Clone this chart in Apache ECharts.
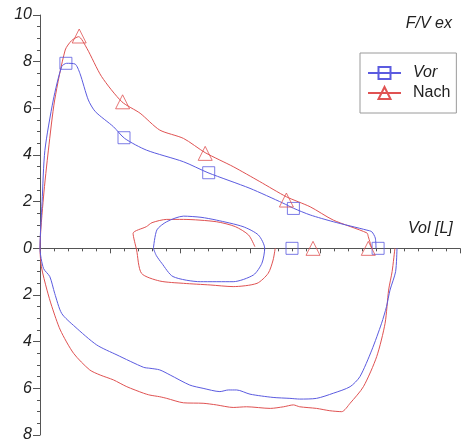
<!DOCTYPE html>
<html>
<head>
<meta charset="utf-8">
<script src="https://cdn.jsdelivr.net/npm/echarts@6/dist/echarts.min.js"></script>
<style>html,body{margin:0;padding:0;background:#fff}#c{width:464px;height:444px}</style>
</head>
<body>
<div id="c"></div>
<script>
// ---- data (volume [L], flow [L/s]) ----
const vorExp = [[0,0],[0.03,2.0],[0.07,4.2],[0.19,6.36],[0.31,7.79],[0.38,7.93],[0.5,7.9],[0.57,7.5],[0.69,6.36],[0.79,5.86],[1.05,5.21],[1.21,4.71],[1.52,4.21],[2.05,3.71],[2.4,3.24],[3.0,2.57],[3.47,1.94],[3.62,1.72],[3.86,1.43],[4.19,1.14],[4.67,0.78],[4.74,0.71],[4.79,0.44],[4.8,0]];
const vorInsp = [[5.1,0],[5.08,-1.0],[5.0,-1.79],[4.95,-2.5],[4.88,-3.21],[4.74,-4.36],[4.57,-5.5],[4.43,-5.93],[4.19,-6.21],[3.95,-6.43],[3.71,-6.46],[3.57,-6.43],[3.33,-6.39],[3.0,-6.25],[2.81,-6.07],[2.69,-6.07],[2.57,-6.14],[2.33,-6.0],[2.14,-5.86],[1.86,-5.43],[1.71,-5.21],[1.57,-5.14],[1.48,-5.1],[1.1,-4.57],[0.81,-4.14],[0.5,-3.36],[0.31,-2.79],[0.21,-1.93],[0.14,-1.21],[0.05,-0.86],[0,0]];
const vorTidal = [[1.62,0],[1.67,0.79],[1.81,1.14],[2.05,1.38],[2.3,1.33],[2.52,1.21],[2.9,0.93],[3.12,0.57],[3.21,0],[3.17,-0.64],[3.05,-1.14],[2.76,-1.43],[2.29,-1.43],[1.9,-1.21],[1.74,-0.64],[1.66,-0.3],[1.62,0]];
const nachExp = [[0,0],[0.05,2.2],[0.12,4.21],[0.21,6.36],[0.36,8.5],[0.45,8.9],[0.55,9.07],[0.67,8.57],[0.88,7.36],[1.17,6.28],[1.43,5.79],[1.71,5.07],[2.05,4.71],[2.36,4.1],[2.76,3.5],[3.14,2.86],[3.52,2.21],[3.86,1.78],[4.19,1.21],[4.67,0.66],[4.69,0.5],[4.74,0]];
const nachInsp = [[5.07,0],[5.03,-1.0],[4.98,-1.79],[4.93,-3.21],[4.81,-4.64],[4.62,-5.93],[4.43,-6.64],[4.31,-7.0],[4.14,-6.96],[3.95,-6.86],[3.71,-6.79],[3.62,-6.71],[3.48,-6.79],[3.29,-6.86],[2.95,-6.79],[2.76,-6.82],[2.52,-6.71],[2.33,-6.64],[2.05,-6.62],[1.81,-6.43],[1.71,-6.36],[1.57,-6.29],[1.48,-6.21],[1.24,-5.93],[1.05,-5.64],[0.86,-5.43],[0.71,-5.21],[0.48,-4.5],[0.29,-3.5],[0.17,-2.5],[0.1,-1.79],[0.02,-0.79],[0,0]];
const nachTidal = [[3.36,0],[3.33,-0.5],[3.26,-1.07],[3.1,-1.5],[2.76,-1.64],[2.43,-1.57],[2.05,-1.5],[1.71,-1.4],[1.45,-1.07],[1.38,-0.07],[1.33,0.64],[1.52,0.93],[1.6,1.1],[1.81,1.24],[2.05,1.24],[2.52,1.14],[2.79,0.93],[2.98,0.57],[3.07,0.07]];
const vorMarks = [[0.37,7.93],[1.2,4.74],[2.41,3.24],[3.62,1.71],[3.6,0],[4.83,0]];
const nachMarks = [[0.56,9.1],[1.18,6.28],[2.36,4.07],[3.52,2.07],[3.9,0],[4.69,0]];
const xTicks = [0,1,2,3,4,5,6];
const yTicks = [-8,-6,-4,-2,0,2,4,6,8,10];

const BLUE = '#5b5be0', RED = '#e05252';
const FONT = '"Liberation Sans", Arial, sans-serif';
const vorLine = vorInsp.concat(vorExp.slice(1), [null], vorTidal);
const nachLine = nachInsp.concat(nachExp.slice(1), [null], nachTidal);

const chart = echarts.init(document.getElementById('c'));
chart.setOption({
  animation: false,
  backgroundColor: '#fff',
  title: {text: 'F/V ex', right: 12, top: 16, padding: 0,
    textStyle: {fontFamily: FONT, fontStyle: 'italic', fontWeight: 'normal', fontSize: 16, color: '#222'}},
  graphic: [{type: 'text', left: 408, top: 221,
    style: {text: 'Vol [L]', font: 'italic 16px ' + FONT, fill: '#222'}}],
  legend: {
    orient: 'vertical', left: 360, top: 53,
    padding: [12, 6, 12, 7], itemGap: 4, itemWidth: 33, itemHeight: 15,
    borderColor: '#9a9a9a', borderWidth: 1, backgroundColor: '#fff',
    data: ['Vor', 'Nach'],
    formatter: n => n === 'Vor' ? '{i|Vor}' : '{n|Nach}',
    textStyle: {fontFamily: FONT, fontSize: 16, color: '#222',
      rich: {i: {fontStyle: 'italic', fontSize: 16, fontFamily: FONT, padding: [0,0,0,7]},
             n: {fontSize: 16, fontFamily: FONT, padding: [0,0,0,7]}}}
  },
  grid: {left: 40, right: 4, top: 15, bottom: 9, containLabel: false, outerBoundsMode: 'none'},
  xAxis: {
    type: 'value', min: xTicks[0], max: xTicks[xTicks.length-1], interval: 1,
    axisLine: {onZero: true, lineStyle: {color: '#555'}},
    axisTick: {length: 5, lineStyle: {color: '#555'}},
    minorTick: {show: true, splitNumber: 5, length: 3, lineStyle: {color: '#555'}},
    splitLine: {show: false},
    axisLabel: {margin: 11, fontFamily: FONT, fontStyle: 'italic', fontSize: 16, color: '#222',
      formatter: v => v === 0 ? '' : String(v)}
  },
  yAxis: {
    type: 'value', min: yTicks[0], max: yTicks[yTicks.length-1], interval: 2,
    axisLine: {show: true, onZero: false, lineStyle: {color: '#555'}},
    axisTick: {show: true, length: 7, lineStyle: {color: '#555'}},
    minorTick: {show: true, splitNumber: 4, length: 3, lineStyle: {color: '#555'}},
    splitLine: {show: false},
    axisLabel: {margin: 8, fontFamily: FONT, fontStyle: 'italic', fontSize: 16, color: '#222',
      formatter: v => String(Math.abs(v))}
  },
  series: [
    {name: 'Vor', type: 'line', data: vorLine, showSymbol: false, symbol: 'rect', connectNulls: false, smooth: 0.25,
      lineStyle: {color: BLUE, width: 1}, itemStyle: {color: 'rgba(0,0,0,0)', borderColor: BLUE, borderWidth: 1}, z: 3},
    {name: 'Nach', type: 'line', data: nachLine, showSymbol: false, symbol: 'triangle', connectNulls: false, smooth: 0.25,
      lineStyle: {color: RED, width: 1}, itemStyle: {color: 'rgba(0,0,0,0)', borderColor: RED, borderWidth: 1}, z: 2},
    {name: 'Vor', type: 'scatter', data: vorMarks, symbol: 'rect', symbolSize: 12,
      itemStyle: {color: 'rgba(0,0,0,0)', borderColor: BLUE, borderWidth: 1}, z: 4},
    {name: 'Nach', type: 'scatter', data: nachMarks, symbol: 'triangle', symbolSize: 14,
      itemStyle: {color: 'rgba(0,0,0,0)', borderColor: RED, borderWidth: 1}, z: 4}
  ]
});
</script>
</body>
</html>
